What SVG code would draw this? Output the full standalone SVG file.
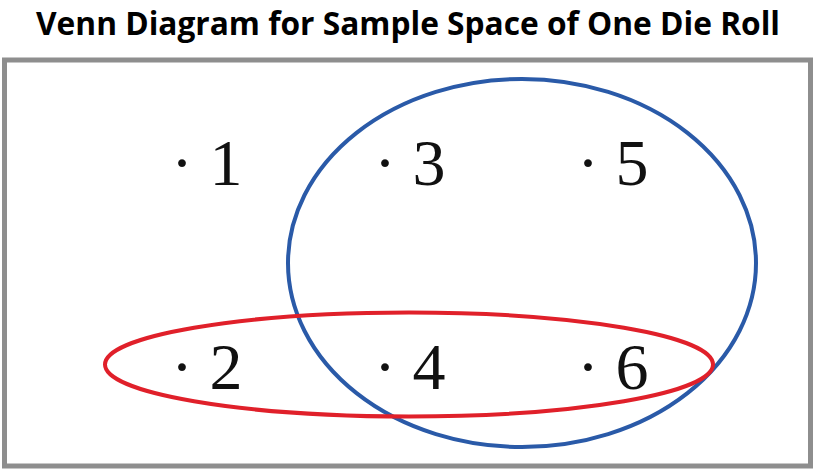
<svg xmlns="http://www.w3.org/2000/svg" width="817" height="471" viewBox="0 0 817 471">
<style>
.title{font-family:"Open Sans","Noto Sans","Liberation Sans",sans-serif;font-weight:bold;font-size:32px;fill:#000}
.num{font-family:"Liberation Serif","DejaVu Serif",serif;font-size:66px;fill:#111}
</style>
<rect width="817" height="471" fill="#fff"/>
<text class="title" x="408" y="35" text-anchor="middle" textLength="744" lengthAdjust="spacingAndGlyphs">Venn Diagram for Sample Space of One Die Roll</text>
<rect id="frame" x="4.5" y="60" width="806" height="406" fill="none" stroke="#8e8e8e" stroke-width="5"/>
<g id="setA"><ellipse cx="522" cy="263" rx="234" ry="184" fill="none" stroke="#2a5aa8" stroke-width="4"/></g>
<g id="setB"><ellipse cx="409" cy="364.5" rx="304" ry="52" fill="none" stroke="#e0202a" stroke-width="4"/></g>
<g id="o1"><text class="num" x="171" y="185">· 1</text></g>
<g id="o3"><text class="num" x="374" y="185">· 3</text></g>
<g id="o5"><text class="num" x="577" y="185">· 5</text></g>
<g id="o2"><text class="num" x="171" y="389">· 2</text></g>
<g id="o4"><text class="num" x="374" y="389">· 4</text></g>
<g id="o6"><text class="num" x="577" y="389">· 6</text></g>
</svg>
